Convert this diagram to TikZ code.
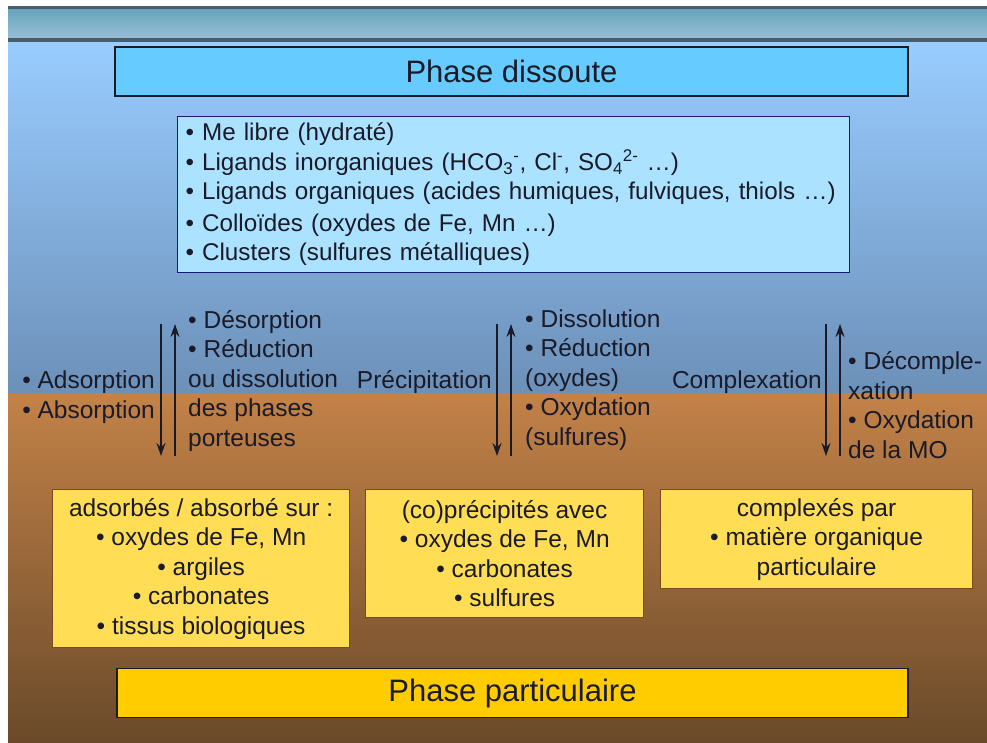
\documentclass[tikz,border=0pt]{standalone}
\usepackage{xcolor}
\usepackage{fontspec}
\setmainfont{Liberation Sans}
\usepackage{tikz}
\usetikzlibrary{arrows.meta, positioning}
\definecolor{inkdark}{RGB}{26,26,40}
\definecolor{stripdark}{RGB}{74,94,106}
\definecolor{striptop}{RGB}{104,166,190}
\definecolor{stripbot}{RGB}{152,190,214}
\definecolor{watertop}{RGB}{153,204,255}
\definecolor{waterbot}{RGB}{108,144,184}
\definecolor{sedtop}{RGB}{195,130,72}
\definecolor{sedbot}{RGB}{106,74,42}
\definecolor{titleblue}{RGB}{102,204,255}
\definecolor{listblue}{RGB}{170,226,255}
\definecolor{listframe}{RGB}{26,26,120}
\definecolor{boxyellow}{RGB}{255,221,85}
\definecolor{boxframe}{RGB}{122,74,26}
\definecolor{titleyellow}{RGB}{255,204,0}
\tikzset{
  titlebox/.style={rectangle, draw=inkdark, line width=1.2pt,
    minimum height=49pt, text=inkdark,
    font=\fontsize{31}{36}\selectfont},
  listbox/.style={rectangle, draw=listframe, fill=listblue,
    line width=1.2pt, inner xsep=8pt, text width=656pt, align=left,
    minimum height=156pt, text=inkdark,
    font=\fontsize{24.2}{29.5}\selectfont},
  sedbox/.style={rectangle, draw=boxframe, fill=boxyellow,
    line width=1.2pt, align=center, text=inkdark,
    font=\fontsize{24.5}{29.5}\selectfont},
  proc/.style={align=left, text=inkdark, inner sep=0pt,
    font=\fontsize{24.5}{29.5}\selectfont},
  arrow/.style={-{Stealth[length=13pt, width=9pt]}, line width=2pt,
    color=inkdark}
}

\begin{document}
\begin{tikzpicture}[x=1pt, y=-1pt]
  \useasboundingbox (0,0) rectangle (987,743);
  % background
  \fill[white] (0,0) rectangle (987,743);
  \fill[stripdark] (8,6) rectangle (987,10);
  \shade[top color=striptop, bottom color=stripbot] (8,10) rectangle (987,38);
  \fill[stripdark] (8,38) rectangle (987,43);
  \shade[top color=watertop, bottom color=waterbot] (8,43) rectangle (987,393);
  \shade[top color=sedtop, bottom color=sedbot] (8,393) rectangle (987,743);

  % Phase dissoute
  \node[titlebox, fill=titleblue, minimum width=793pt] (dissoute)
    at (511.5,71.5) {Phase dissoute};
  \node[listbox, anchor=north west] (especes) at (177,116)
    {\textbullet{} Me libre (hydraté)\\
     \textbullet{} Ligands inorganiques (HCO\textsubscript{3}\textsuperscript{-}, Cl\textsuperscript{-}, SO\textsubscript{4}\textsuperscript{2-} …)\\
     \textbullet{} Ligands organiques (acides humiques, fulviques, thiols …)\\[2pt]
     \textbullet{} Colloïdes (oxydes de Fe, Mn …)\\
     \textbullet{} Clusters (sulfures métalliques)};

  % Sorption
  \coordinate (sorbtop) at (161,324);
  \coordinate (sorbbot) at (161,456);
  \coordinate (desorbbot) at (175,456);
  \coordinate (desorbtop) at (175,324);
  \draw[arrow] (sorbtop) -- (sorbbot);
  \draw[arrow] (desorbbot) -- (desorbtop);
  \node[proc, anchor=east] (sorption) at (155,397)
    {\textbullet{} Adsorption\\ \textbullet{} Absorption};
  \node[proc, anchor=west] (desorption) at (188,381)
    {\textbullet{} Désorption\\ \textbullet{} Réduction\\ ou dissolution\\
     des phases\\ porteuses};

  % Precipitation
  \coordinate (prectop) at (497,324);
  \coordinate (precbot) at (497,456);
  \coordinate (dissolbot) at (511,456);
  \coordinate (dissoltop) at (511,324);
  \draw[arrow] (prectop) -- (precbot);
  \draw[arrow] (dissolbot) -- (dissoltop);
  \node[proc, anchor=east] (precipitation) at (492,382) {Précipitation};
  \node[proc, anchor=west] (dissolution) at (525,380)
    {\textbullet{} Dissolution\\ \textbullet{} Réduction\\ (oxydes)\\
     \textbullet{} Oxydation\\ (sulfures)};

  % Complexation
  \coordinate (compltop) at (826,324);
  \coordinate (complbot) at (826,456);
  \coordinate (decomplbot) at (840,456);
  \coordinate (decompltop) at (840,324);
  \draw[arrow] (compltop) -- (complbot);
  \draw[arrow] (decomplbot) -- (decompltop);
  \node[proc, anchor=east] (complexation) at (822,382) {Complexation};
  \node[proc, anchor=west] (decomplexation) at (848,405)
    {\textbullet{} Décomple-\\ xation\\ \textbullet{} Oxydation\\ de la MO};

  % Phase particulaire
  \node[sedbox, anchor=north west, minimum width=297pt, minimum height=158pt]
    (adsorbes) at (52,489)
    {adsorbés / absorbé sur :\\ \textbullet{} oxydes de Fe, Mn\\
     \textbullet{} argiles\\ \textbullet{} carbonates\\
     \textbullet{} tissus biologiques};
  \node[sedbox, anchor=north west, minimum width=278pt, minimum height=128pt]
    (coprecipites) at (365,489)
    {(co)précipités avec\\ \textbullet{} oxydes de Fe, Mn\\
     \textbullet{} carbonates\\ \textbullet{} sulfures};
  \node[sedbox, anchor=north west, minimum width=312pt, minimum height=99pt]
    (complexes) at (660,489)
    {complexés par\\ \textbullet{} matière organique\\ particulaire};
  \node[titlebox, fill=titleyellow, minimum width=791pt] (particulaire)
    at (512.5,693) {Phase particulaire};
\end{tikzpicture}
\end{document}
